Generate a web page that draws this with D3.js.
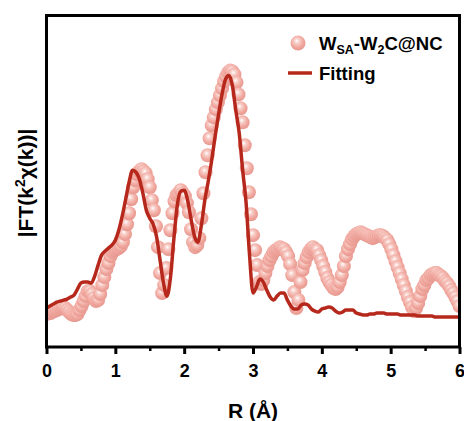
<!DOCTYPE html>
<html>
<head>
<meta charset="utf-8">
<script src="https://cdn.jsdelivr.net/npm/d3@7"></script>
<style>
  html, body { margin: 0; padding: 0; background: #fff; }
  svg { display: block; }
</style>
</head>
<body>
<div id="chart"></div>
<script>
// Measured |FT(k2 chi(k))| — sampled every 0.03 Å starting at R = 0
const DATA_R_STEP = 0.03
const dataAmp = [
  3.3, 3.4, 3.4, 3.6, 3.6, 3.7, 3.8, 3.9, 4.0, 3.9,
  3.7, 3.5, 3.3, 3.2, 3.2, 3.3, 3.7, 4.1, 4.6, 5.1,
  5.6, 5.6, 5.3, 4.9, 4.6, 4.7, 5.3, 6.2, 7.0, 7.8,
  8.4, 9.1, 9.5, 9.7, 9.8, 9.9, 10.1, 10.5, 11.3, 12.3,
  13.4, 14.8, 16.0, 16.7, 17.3, 17.6, 17.8, 17.6, 17.4, 16.8,
  16.0, 14.7, 13.7, 12.1, 10.0, 7.4, 5.4, 6.2, 7.9, 9.8,
  11.7, 13.4, 14.6, 15.2, 15.4, 15.7, 15.4, 15.1, 14.4, 13.5,
  11.8, 10.5, 10.0, 10.2, 10.9, 12.9, 15.4, 17.5, 19.2, 20.9,
  22.2, 23.0, 23.8, 24.5, 25.2, 25.9, 26.6, 27.1, 27.5, 27.7,
  27.6, 27.3, 26.5, 25.3, 23.9, 22.5, 20.2, 17.9, 15.5, 13.3,
  11.2, 9.7, 8.2, 6.5, 6.3, 6.7, 7.4, 8.1, 8.7, 9.1,
  9.5, 9.7, 9.8, 10.0, 9.9, 9.8, 9.5, 9.1, 8.3, 7.2,
  5.5, 3.9, 4.7, 6.5, 7.7, 8.4, 9.0, 9.5, 9.8, 10.0,
  9.8, 9.7, 9.2, 8.7, 8.1, 7.5, 6.9, 6.5, 6.2, 5.9,
  5.8, 6.0, 6.5, 7.2, 8.1, 9.1, 9.8, 10.3, 10.8, 11.1,
  11.3, 11.4, 11.5, 11.4, 11.3, 11.2, 11.1, 11.0, 10.9, 11.0,
  11.1, 11.2, 11.2, 11.1, 10.9, 10.7, 10.3, 9.8, 9.2, 8.6,
  8.0, 7.4, 6.8, 6.2, 5.6, 5.0, 4.5, 4.0, 3.6, 3.9,
  4.4, 5.1, 5.8, 6.2, 6.7, 6.9, 7.2, 7.3, 7.4, 7.4,
  7.2, 7.1, 6.9, 6.6, 6.4, 6.1, 5.7, 5.4, 5.0, 4.6,
  4.1
]

// Fitting curve — sampled every 0.05 Å starting at R = 0
const FIT_R_STEP = 0.05
const fitAmp = [
  3.9, 4.1, 4.3, 4.5, 4.6, 4.7, 4.8, 5.0, 5.2, 5.8,
  6.4, 6.5, 6.5, 6.4, 7.1, 8.2, 9.2, 9.6, 9.9, 10.2,
  10.7, 11.7, 13.1, 14.8, 16.5, 17.7, 17.5, 16.8, 15.4, 13.7,
  12.9, 12.3, 11.0, 8.7, 6.4, 5.1, 6.9, 10.8, 14.2, 15.6,
  15.7, 14.7, 12.8, 11.1, 10.5, 12.2, 14.7, 16.6, 18.7, 21.1,
  23.3, 25.3, 26.8, 27.2, 26.2, 23.7, 21.4, 17.7, 14.4, 9.2,
  5.4, 6.0, 6.8, 6.5, 5.7, 5.0, 4.7, 5.1, 5.4, 5.4,
  4.7, 4.1, 3.8, 3.8, 4.2, 4.3, 4.2, 3.8, 3.6, 3.5,
  3.8, 3.9, 4.0, 3.9, 3.6, 3.4, 3.5, 3.7, 3.7, 3.7,
  3.4, 3.3, 3.2, 3.2, 3.3, 3.3, 3.4, 3.4, 3.4, 3.3,
  3.3, 3.3, 3.3, 3.2, 3.2, 3.2, 3.2, 3.2, 3.1, 3.1,
  3.1, 3.1, 3.1, 3.0, 3.0, 3.0, 3.0, 3.0, 3.0, 3.0,
  3.0
]

const xTicks = [0, 1, 2, 3, 4, 5, 6]
const xMinorTicks = [0.5, 1.5, 2.5, 3.5, 4.5, 5.5]
const legendLabels = ['Data', 'Fitting']

const width = 464
const height = 421
const margin = { top: 15.5, right: 4.5, bottom: 74, left: 46.5 }
const FONT = 'Arial, "Liberation Sans", sans-serif'
const FIT_COLOR = '#B7281C'

const data = dataAmp.map((v, i) => ({ r: i * DATA_R_STEP, v }))
const fit = fitAmp.map((v, i) => ({ r: i * FIT_R_STEP, v }))

const x = d3.scaleLinear()
  .domain([0, 6])
  .range([margin.left, width - margin.right])

const y = d3.scaleLinear()
  .domain([0, 33.2])
  .range([height - margin.bottom, margin.top])

const svg = d3.select('#chart')
  .append('svg')
  .attr('width', width)
  .attr('height', height)

const defs = svg.append('defs')

// glossy sphere look of the data markers
const grad = defs.append('radialGradient')
  .attr('id', 'ball')
  .attr('cx', '45%').attr('cy', '40%').attr('r', '60%')
  .attr('fx', '42%').attr('fy', '35%')
grad.append('stop').attr('offset', '0%').attr('stop-color', '#FFFFFF')
grad.append('stop').attr('offset', '28%').attr('stop-color', '#F8CFC9')
grad.append('stop').attr('offset', '70%').attr('stop-color', '#F0A69D')
grad.append('stop').attr('offset', '100%').attr('stop-color', '#E6988F')

defs.append('clipPath').attr('id', 'plot-clip')
  .append('rect')
  .attr('x', margin.left).attr('y', margin.top)
  .attr('width', width - margin.left - margin.right)
  .attr('height', height - margin.top - margin.bottom)

const plot = svg.append('g').attr('clip-path', 'url(#plot-clip)')

// data spheres
plot.append('g').attr('class', 'data')
  .selectAll('circle')
  .data(data)
  .join('circle')
  .attr('cx', d => x(d.r))
  .attr('cy', d => y(d.v))
  .attr('r', 7)
  .attr('fill', 'url(#ball)')

// fitting line
const line = d3.line()
  .x(d => x(d.r))
  .y(d => y(d.v))
  .curve(d3.curveMonotoneX)

plot.append('path')
  .datum(fit)
  .attr('fill', 'none')
  .attr('stroke', FIT_COLOR)
  .attr('stroke-width', 3.5)
  .attr('stroke-linejoin', 'round')
  .attr('d', line)

// X axis: major ticks with labels, minor ticks without
const axisY = height - margin.bottom
svg.append('g')
  .attr('transform', `translate(0,${axisY})`)
  .call(d3.axisBottom(x).tickValues(xMinorTicks).tickSize(4).tickFormat(''))
  .call(g => {
    g.select('.domain').remove()
    g.selectAll('.tick line').attr('stroke', '#000').attr('stroke-width', 2.5)
  })

svg.append('g')
  .attr('transform', `translate(0,${axisY})`)
  .call(d3.axisBottom(x).tickValues(xTicks).tickSize(7).tickPadding(10).tickFormat(d3.format('d')))
  .call(g => {
    g.select('.domain').remove()
    g.selectAll('.tick line').attr('stroke', '#000').attr('stroke-width', 3)
    g.selectAll('.tick text')
      .attr('fill', '#000')
      .attr('font-size', '18px')
      .attr('font-weight', 'bold')
      .attr('font-family', FONT)
  })

// frame
svg.append('rect')
  .attr('x', margin.left).attr('y', margin.top)
  .attr('width', width - margin.left - margin.right)
  .attr('height', height - margin.top - margin.bottom)
  .attr('fill', 'none')
  .attr('stroke', '#000')
  .attr('stroke-width', 3)

// axis titles
svg.append('text')
  .attr('x', (margin.left + width - margin.right) / 2)
  .attr('y', 418)
  .attr('text-anchor', 'middle')
  .attr('font-size', '21px')
  .attr('font-weight', 'bold')
  .attr('font-family', FONT)
  .text('R (Å)')

const yTitle = svg.append('text')
  .attr('transform', `translate(33,183) rotate(-90)`)
  .attr('text-anchor', 'middle')
  .attr('font-size', '21px')
  .attr('font-weight', 'bold')
  .attr('font-family', FONT)
yTitle.append('tspan').text('|FT(k')
yTitle.append('tspan').attr('font-size', '14px').attr('dy', -8).text('2')
yTitle.append('tspan').attr('dy', 8).text('χ(k))|')

// legend
const legend = svg.append('g').attr('font-family', FONT).attr('font-weight', 'bold').attr('font-size', '18.5px')

legend.append('circle')
  .attr('cx', 298).attr('cy', 43).attr('r', 7.5)
  .attr('fill', 'url(#ball)')

const lbl = legend.append('text').attr('x', 319).attr('y', 50)
lbl.append('tspan').text('W')
lbl.append('tspan').attr('font-size', '12.5px').attr('dy', 4).text('SA')
lbl.append('tspan').attr('dy', -4).text('-W')
lbl.append('tspan').attr('font-size', '12.5px').attr('dy', 4).text('2')
lbl.append('tspan').attr('dy', -4).text('C@NC')

legend.append('line')
  .attr('x1', 288).attr('x2', 312)
  .attr('y1', 73).attr('y2', 73)
  .attr('stroke', FIT_COLOR)
  .attr('stroke-width', 3.5)

legend.append('text')
  .attr('x', 319).attr('y', 80)
  .text(legendLabels[1])
</script>
</body>
</html>
